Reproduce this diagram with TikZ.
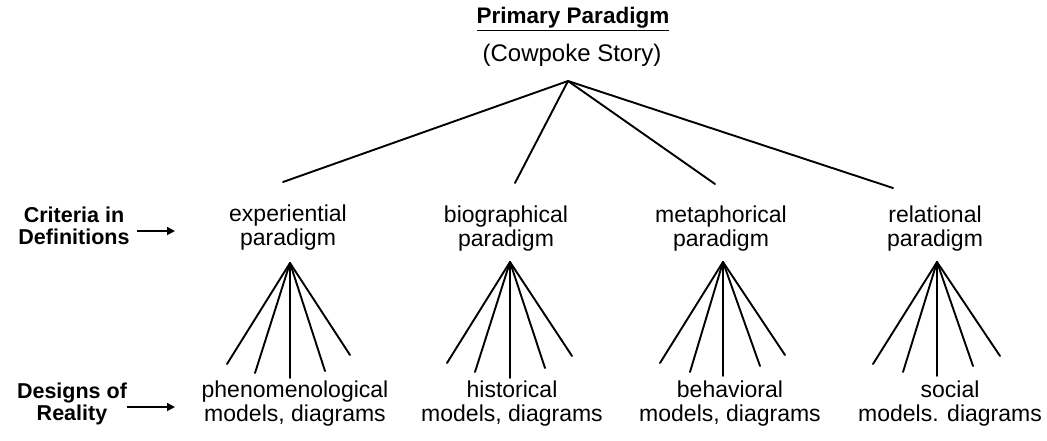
\documentclass[tikz,border=0pt]{standalone}
\usepackage{fontspec}
\setmainfont{Liberation Sans}
\usetikzlibrary{arrows.meta}
\begin{document}
\begin{tikzpicture}[x=1pt,y=-1pt,
  lbl/.style={font=\fontsize{23}{24}\selectfont, align=center, inner sep=0pt},
  side/.style={font=\fontsize{21.5}{22}\selectfont\bfseries, align=center, inner sep=0pt},
  edge/.style={line width=1.9pt, line cap=round},
  pointer/.style={line width=1.7pt, -{Triangle[length=8pt,width=8pt]}}]
\useasboundingbox (0,0) rectangle (1047,440);
% title
\node[font=\fontsize{22.5}{24}\selectfont\bfseries, inner sep=0pt] (title) at (573,19) {\underline{Primary Paradigm}};
\node[font=\fontsize{24}{24}\selectfont, inner sep=0pt] (story) at (572,55) {(Cowpoke Story)};
\coordinate (top) at (568,81);
% paradigms
\node[lbl] (exp) at (288,228) {experiential\\paradigm};
\node[lbl] (bio) at (506,229) {biographical\\paradigm};
\node[lbl] (met) at (721,229) {metaphorical\\paradigm};
\node[lbl] (rel) at (935,229) {relational\\paradigm};
\coordinate (t1) at (283,182);
\coordinate (t2) at (515,183);
\coordinate (t3) at (715,184);
\coordinate (t4) at (893,188);
\foreach \t in {t1,t2,t3,t4} \draw[edge] (top) -- (\t);
% models
\node[lbl] (phe) at (295,404) {phenomenological\\models, diagrams};
\node[lbl] (his) at (512,404) {historical\\models, diagrams};
\node[lbl] (beh) at (730,404) {behavioral\\models, diagrams};
\node[lbl] (soc) at (950,404) {social\\models. diagrams};
% fans
\coordinate (ea) at (290,263);
\coordinate (ba) at (510,262);
\coordinate (ma) at (723,262);
\coordinate (ra) at (937,262);
\foreach \x/\y in {227/364,255/373,290/378,325/371,350/355}
  \draw[edge] (ea) -- (\x,\y);
\foreach \x/\y in {447/363,475/372,510/378,545/368,572/356}
  \draw[edge] (ba) -- (\x,\y);
\foreach \x/\y in {660/363,690/372,723/376,760/366,785/355}
  \draw[edge] (ma) -- (\x,\y);
\foreach \x/\y in {873/364,903/372,937/376,973/366,1000/356}
  \draw[edge] (ra) -- (\x,\y);
% side labels
\node[side] (crit) at (74,226) {Criteria in\\Definitions};
\node[side] (des) at (72,404) {Designs of\\Reality};
\coordinate (c1) at (137,231);
\coordinate (c2) at (175,231);
\coordinate (d1) at (127,407);
\coordinate (d2) at (175,407);
\draw[pointer] (c1) -- (c2);
\draw[pointer] (d1) -- (d2);
\end{tikzpicture}
\end{document}
